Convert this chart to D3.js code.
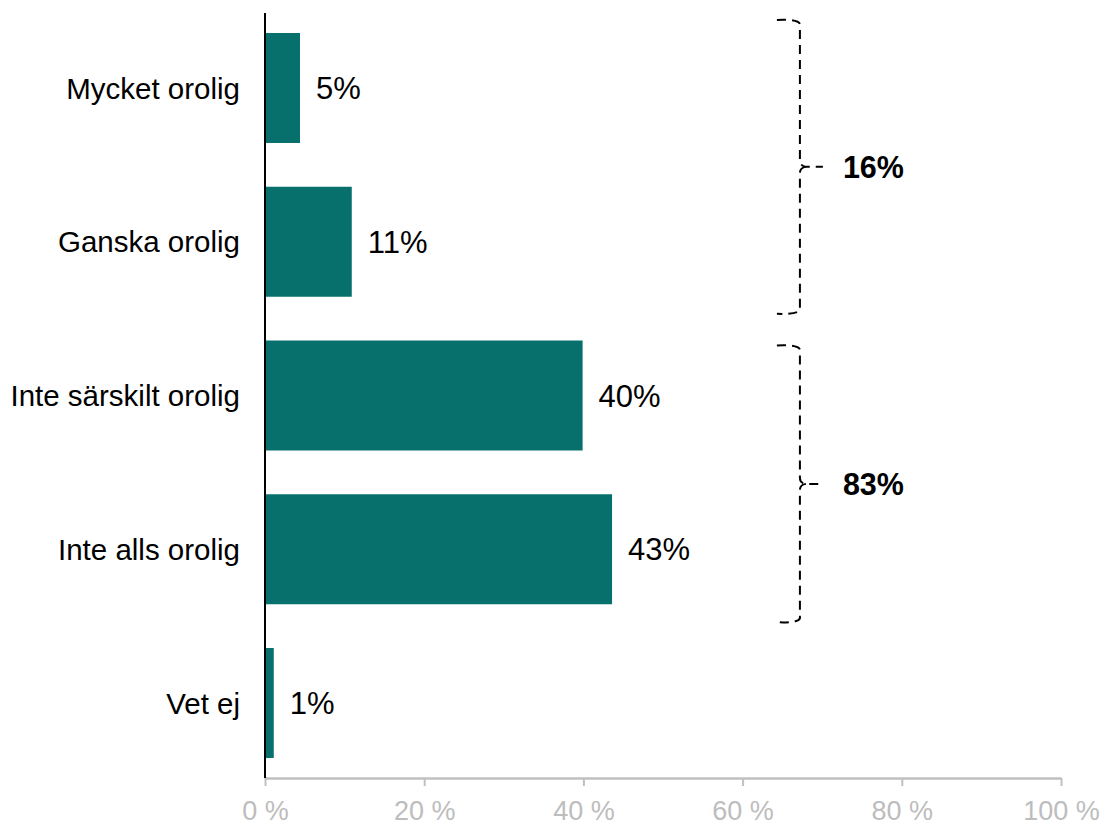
<!DOCTYPE html>
<html><head><meta charset="utf-8">
<script src="https://cdn.jsdelivr.net/npm/d3@7"></script>
<style>
html,body{margin:0;padding:0;background:#fff;}
svg{display:block;}
</style></head>
<body>
<svg id="chart" width="1103" height="826"></svg>
<script>
const categories = ["Mycket orolig", "Ganska orolig", "Inte särskilt orolig", "Inte alls orolig", "Vet ej"];
const values = [4.4, 10.9, 39.9, 43.6, 1.1];
const valueLabels = ["5%", "11%", "40%", "43%", "1%"];
const tickValues = [0, 20, 40, 60, 80, 100];
const tickLabels = ["0 %", "20 %", "40 %", "60 %", "80 %", "100 %"];
const groupStart = [0, 2];
const groupEnd = [1, 3];
const groupLabels = ["16%", "83%"];

(function () {
const svg = d3.select("#chart");
const mLeft = 265, mRight = 1061, mTop = 13, mBottom = 778;
const barColor = "#08706c";
const fontMain = "'Liberation Sans', Arial, sans-serif";

const x = d3.scaleLinear().domain([0, 100]).range([mLeft, mRight]);
const y = d3.scaleBand().domain(categories).range([mTop, mBottom]).paddingInner(0.2846).paddingOuter(0.13);

// bars
svg.append("g").selectAll("rect").data(categories).join("rect")
  .attr("x", x(0))
  .attr("y", d => y(d))
  .attr("width", (d, i) => x(values[i]) - x(0))
  .attr("height", y.bandwidth())
  .attr("fill", barColor);

// bottom axis
const xAxis = d3.axisBottom(x).tickValues(tickValues)
  .tickFormat((d, i) => tickLabels[i]).tickSize(8).tickSizeOuter(0).tickPadding(15);
const gx = svg.append("g").attr("transform", `translate(0,${mBottom})`).call(xAxis);
gx.select(".domain").attr("stroke", "#c0c0c0").attr("stroke-width", 2.5);
gx.selectAll(".tick line").attr("stroke", "#c0c0c0").attr("stroke-width", 2);
gx.selectAll(".tick text")
  .attr("fill", "#bdbdbd")
  .attr("font-family", "'Liberation Sans Narrow', 'Arial Narrow', 'Liberation Sans', sans-serif")
  .attr("font-size", 27)
  .attr("dy", "0.71em");

// vertical axis line
svg.append("line")
  .attr("x1", x(0)).attr("x2", x(0))
  .attr("y1", mTop).attr("y2", mBottom)
  .attr("stroke", "#000").attr("stroke-width", 2);

// category labels
svg.append("g").selectAll("text").data(categories).join("text")
  .attr("x", x(0) - 25)
  .attr("y", d => y(d) + y.bandwidth() / 2)
  .attr("dy", "0.36em")
  .attr("text-anchor", "end")
  .attr("font-family", fontMain)
  .attr("font-size", 29.5)
  .attr("fill", "#000")
  .text(d => d);

// value labels
svg.append("g").selectAll("text").data(categories).join("text")
  .attr("x", (d, i) => x(values[i]) + 16)
  .attr("y", d => y(d) + y.bandwidth() / 2)
  .attr("dy", "0.36em")
  .attr("font-family", fontMain)
  .attr("font-size", 31)
  .attr("fill", "#000")
  .text((d, i) => valueLabels[i]);

// brackets
const bx = x(67.2);
const topOff = [-13, 5];
const botOff = [17, 18];
groupLabels.forEach((lab, gi) => {
  const y0 = y(categories[groupStart[gi]]) + topOff[gi];
  const y1 = y(categories[groupEnd[gi]]) + y.bandwidth() + botOff[gi];
  const ym = (y0 + y1) / 2;
  const p = d3.path();
  p.moveTo(bx - 23, y0);
  p.quadraticCurveTo(bx - 2, y0 - 1, bx, y0 + 4);
  p.lineTo(bx, ym - 6);
  p.quadraticCurveTo(bx, ym - 1, bx + 6, ym);
  p.lineTo(bx + 23, ym);
  p.moveTo(bx + 6, ym);
  p.quadraticCurveTo(bx, ym + 1, bx, ym + 6);
  p.lineTo(bx, y1 - 4);
  p.quadraticCurveTo(bx - 2, y1 + 1, bx - 23, y1);
  svg.append("path")
    .attr("d", p.toString())
    .attr("fill", "none")
    .attr("stroke", "#000")
    .attr("stroke-width", 2)
    .attr("stroke-dasharray", "9,6");
  svg.append("text")
    .attr("x", bx + 43)
    .attr("y", ym)
    .attr("dy", "0.36em")
    .attr("font-family", fontMain)
    .attr("font-weight", "bold")
    .attr("font-size", 30.5)
    .attr("fill", "#000")
    .text(lab);
});
})();
</script>
</body></html>
